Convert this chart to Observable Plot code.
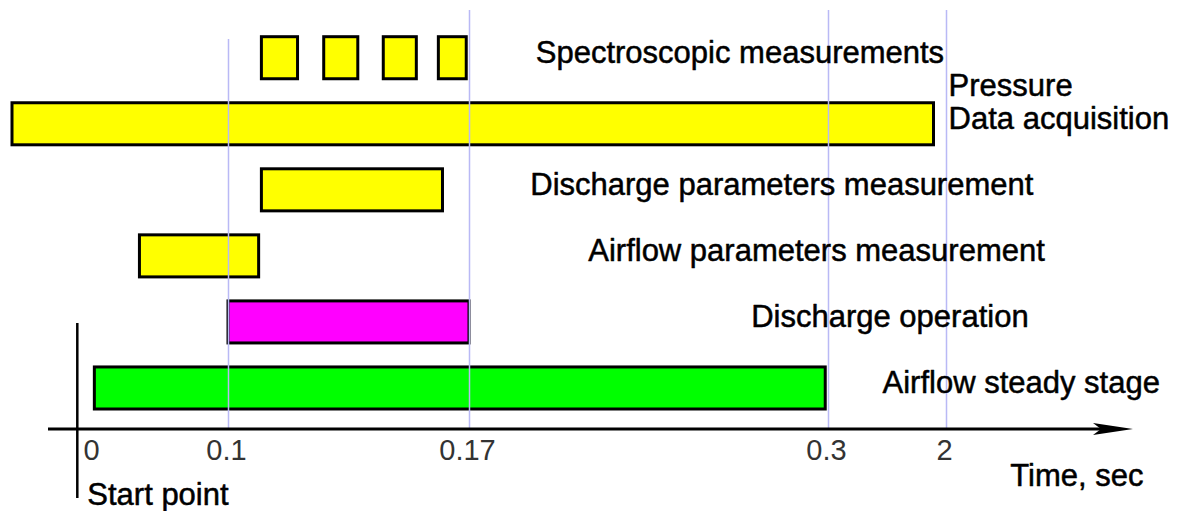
<!DOCTYPE html>
<html>
<head>
<meta charset="utf-8">
<script src="https://cdn.jsdelivr.net/npm/d3@7"></script>
<script src="https://cdn.jsdelivr.net/npm/@observablehq/plot@0.6"></script>
<style>
  body { margin: 0; background: #fff; }
</style>
</head>
<body>
<div id="chart"></div>
<script>
// ---- data (time in seconds, non-linear time axis) ----
const tasks = [
  "Spectroscopic measurements",
  "Data acquisition",
  "Discharge parameters measurement",
  "Airflow parameters measurement",
  "Discharge operation",
  "Airflow steady stage"
];
// where each task label starts (seconds on the time axis)
const labelAt = [0.194, 2.03, 0.192, 0.213, 0.272, 1.078];

// bar segments: task index, start and end time
const segTask  = [0, 0, 0, 0, 1, 2, 3, 4, 5];
const segStart = [0.1097, 0.1278, 0.1451, 0.1611, -0.06, 0.1097, 0.0344, 0.1, 0.001];
const segEnd   = [0.1202, 0.1377, 0.1547, 0.1692, 1.82, 0.1623, 0.1089, 0.17, 0.299];

const tickValues = [0, 0.1, 0.17, 0.3, 2];
const gridValues = [0.1, 0.17, 0.3, 2];
const startPoint = -0.012;

const extraLabel = "Pressure";
const extraLabelRow = "Data acquisition";
const extraLabelAt = 2.03;
const axisTitle = "Time, sec";
const startLabel = "Start point";

// ---- build tables ----
const segments = segTask.map((t, i) => ({task: tasks[t], start: segStart[i], end: segEnd[i]}));
const labels = tasks.map((t, i) => ({task: t, at: labelAt[i]}));

const gridColor = "#b9b9f5";
const textStyle = {fill: "#000", stroke: "#000", strokeWidth: 0.5, fontSize: 31};

const chart = Plot.plot({
  width: 1188,
  height: 511,
  marginLeft: 48,
  marginRight: 55,
  marginTop: 10,
  marginBottom: 82,
  style: {fontFamily: "'Liberation Sans', Arial, Helvetica, sans-serif", background: "#fff", color: "#000"},
  x: {type: "linear", domain: tickValues, range: [93, 228, 469, 828, 946], axis: null},
  y: {type: "band", domain: tasks, range: [24.7, 421], padding: 0, round: false, axis: null},
  color: {domain: tasks, range: ["#ffff00", "#ffff00", "#ffff00", "#ffff00", "#ff00ff", "#00ff00"]},
  marks: [
    Plot.barX(segments, {
      x1: "start", x2: "end", y: "task", fill: "task",
      stroke: "#000", strokeWidth: 3, insetTop: 12, insetBottom: 12
    }),
    Plot.ruleX([gridValues[0]], {stroke: gridColor, strokeWidth: 1.5, insetTop: 29}),
    Plot.ruleX(gridValues.slice(1), {stroke: gridColor, strokeWidth: 1.5}),
    Plot.ruleX([startPoint], {stroke: "#000", strokeWidth: 2.5, insetTop: 313, insetBottom: -69}),
    (index, scales, values, dims) => {
      const {width, height, marginLeft, marginRight, marginBottom} = dims;
      const y0 = height - marginBottom;
      const tip = width - marginRight;
      const g = d3.create("svg:g");
      g.append("line")
        .attr("x1", marginLeft).attr("x2", tip - 30)
        .attr("y1", y0).attr("y2", y0)
        .attr("stroke", "#000").attr("stroke-width", 3);
      g.append("path")
        .attr("d", `M${tip},${y0}L${tip - 40},${y0 - 6}L${tip - 32},${y0}L${tip - 40},${y0 + 6}Z`)
        .attr("fill", "#000");
      return g.node();
    },
    // tick labels of the broken time axis
    Plot.text(tickValues, {
      x: d => d, text: d => String(d), frameAnchor: "bottom", lineAnchor: "top",
      dy: 10, dx: -2, fontSize: 29, fill: "#333",
      fontFamily: "'Liberation Sans Narrow', 'Liberation Sans', Arial, sans-serif"
    }),
    Plot.text(labels, {
      x: "at", y: "task", text: "task", textAnchor: "start", dy: -5, ...textStyle
    }),
    Plot.text([{label: extraLabel, task: extraLabelRow, at: extraLabelAt}], {
      x: "at", y: "task", text: "label", textAnchor: "start", dy: -38, ...textStyle
    }),
    Plot.text([axisTitle], {
      frameAnchor: "bottom-right", textAnchor: "end", lineAnchor: "top",
      dx: 10, dy: 34, ...textStyle
    }),
    Plot.text([{label: startLabel, at: startPoint}], {
      x: "at", text: "label", frameAnchor: "bottom", textAnchor: "start", lineAnchor: "top",
      dx: 10, dy: 53, ...textStyle
    })
  ]
});

document.getElementById("chart").appendChild(chart);
</script>
</body>
</html>
